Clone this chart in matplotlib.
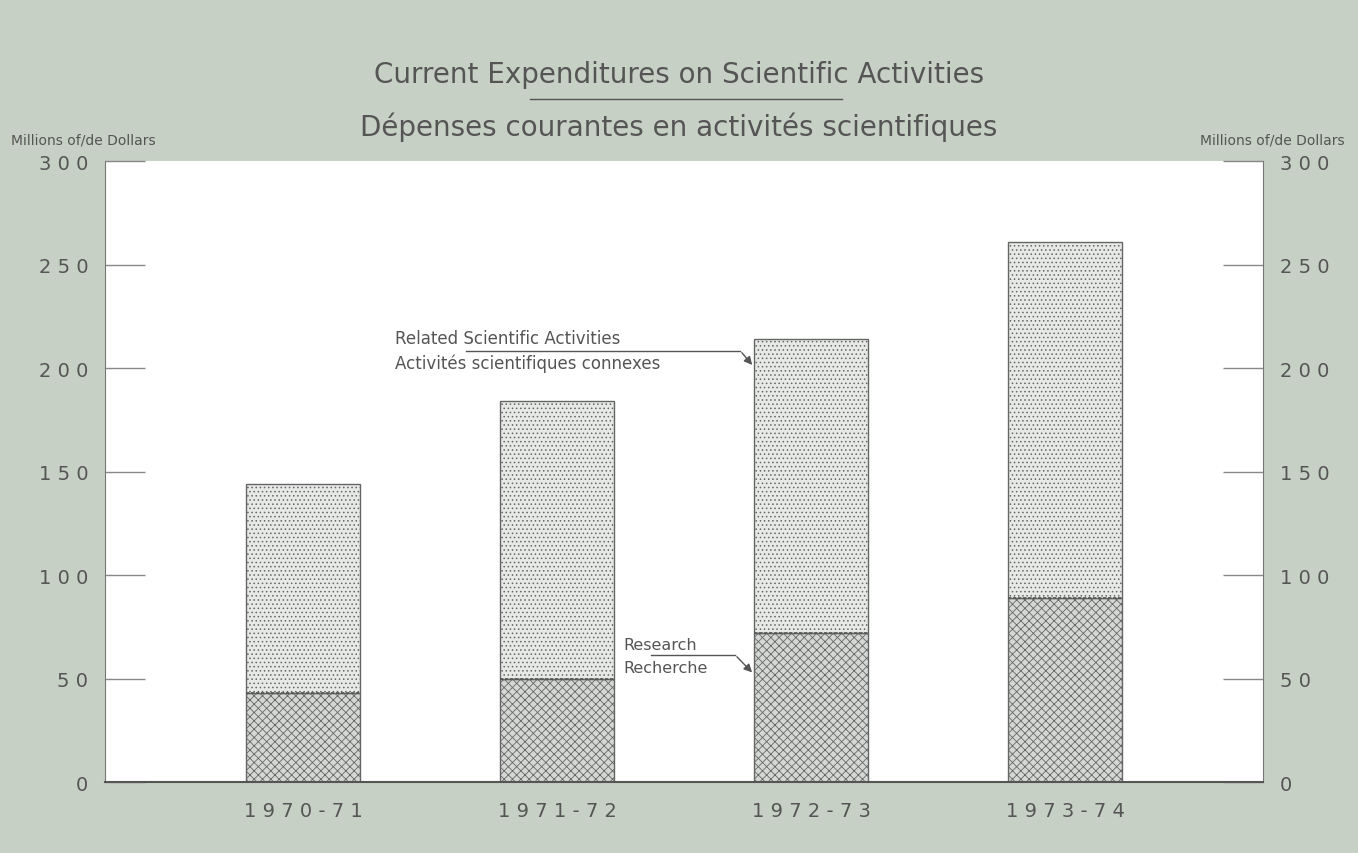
import matplotlib.pyplot as plt
import numpy as np
from matplotlib.ticker import FuncFormatter

# data
years = ['1970-71', '1971-72', '1972-73', '1973-74']
research = [43, 50, 72, 89]
related = [101, 134, 142, 172]   # total minus research
yticks = [0, 50, 100, 150, 200, 250, 300]

bg = '#c6d0c4'
ink = '#555555'
plt.rcParams['font.family'] = ['DejaVu Sans']
plt.rcParams['hatch.color'] = '#9a9e9a'
plt.rcParams['hatch.linewidth'] = 0.6

fig = plt.figure(figsize=(13.58, 8.54), dpi=100, facecolor=bg)
ax = fig.add_axes([0.0773, 0.0831, 0.853, 0.727])
ax.set_facecolor('white')

x = np.arange(len(years))
w = 0.45
ax.bar(x, research, w, color='#d4d8d4', hatch='xxxx', edgecolor='#666666',
       linewidth=1.0, zorder=2)
ax.bar(x, related, w, bottom=research, color='#e6e9e5', hatch='....',
       edgecolor='#666666', linewidth=1.0, zorder=2)
# dashed boundary between the two parts
for xi, r in zip(x, research):
    ax.plot([xi - w / 2, xi + w / 2], [r, r], color='#555555', lw=1.2,
            ls=(0, (2, 1)), zorder=3)

ax.set_xlim(-0.78, 3.78)
ax.set_ylim(0, 300)

spaced = FuncFormatter(lambda v, p: ' '.join(str(int(v))))
ax.set_yticks(yticks)
ax.yaxis.set_major_formatter(spaced)
ax.tick_params(axis='y', direction='in', length=29, width=1, color='#888888',
               labelsize=14, labelcolor=ink, pad=12,
               left=True, right=True, labelleft=True, labelright=True)
ax.set_xticks(x)
ax.set_xticklabels([' '.join(y) for y in years], fontsize=14, color=ink)
ax.tick_params(axis='x', length=0, pad=14)

ax.spines['top'].set_visible(False)
for s in ['left', 'right']:
    ax.spines[s].set_color('#777777')
ax.spines['bottom'].set_color('#555555')
ax.spines['bottom'].set_linewidth(1.5)

# titles
fig.text(0.5, 0.912, 'Current Expenditures on Scientific Activities',
         ha='center', va='center', fontsize=20, color=ink)
fig.add_artist(plt.Line2D([0.39, 0.62], [0.883, 0.883], color=ink, lw=1))
fig.text(0.5, 0.851, 'Dépenses courantes en activités scientifiques',
         ha='center', va='center', fontsize=20, color=ink)
fig.text(0.008, 0.836, 'Millions of/de Dollars', ha='left', va='center',
         fontsize=10, color=ink)
fig.text(0.99, 0.836, 'Millions of/de Dollars', ha='right', va='center',
         fontsize=10, color=ink)

# annotations
ax.text(0.36, 210, 'Related Scientific Activities', fontsize=12, color=ink,
        va='bottom')
ax.text(0.36, 207, 'Activités scientifiques connexes', fontsize=12,
        color=ink, va='top')
ax.plot([0.64, 1.72], [208.5, 208.5], color=ink, lw=1)
ax.annotate('', xy=(1.775, 200.5), xytext=(1.72, 208.5),
            arrowprops=dict(arrowstyle='-|>', color=ink, lw=1,
                            mutation_scale=12))

ax.text(1.26, 63, 'Research', fontsize=11.5, color=ink, va='bottom')
ax.text(1.26, 59, 'Recherche', fontsize=11.5, color=ink, va='top')
ax.plot([1.37, 1.70], [61.5, 61.5], color=ink, lw=1)
ax.annotate('', xy=(1.775, 52), xytext=(1.70, 61.5),
            arrowprops=dict(arrowstyle='-|>', color=ink, lw=1,
                            mutation_scale=12))

fig.savefig('out.png', dpi=100, facecolor=bg)
